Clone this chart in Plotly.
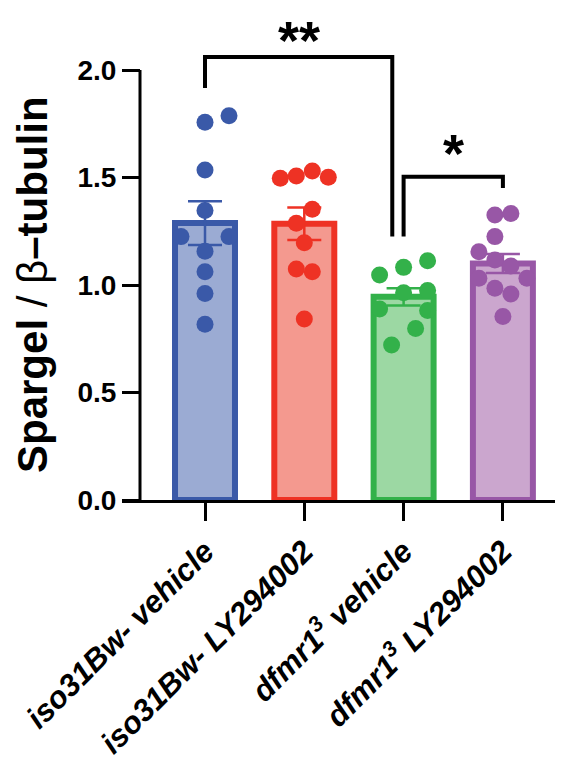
import plotly.graph_objects as go

# ---- data ----
categories = ["iso31Bw- vehicle", "iso31Bw- LY294002",
              "dfmr1<sup>3</sup> vehicle", "dfmr1<sup>3</sup> LY294002"]
means = [1.288, 1.285, 0.945, 1.100]
sems = [0.102, 0.076, 0.040, 0.044]

iso_vehicle = [1.757, 1.787, 1.535, 1.346, 1.225, 1.225, 1.157, 1.062, 0.961, 0.817]
iso_ly = [1.496, 1.507, 1.530, 1.501, 1.352, 1.287, 1.197, 1.074, 1.062, 0.842]
dfmr_vehicle = [1.047, 1.082, 1.113, 0.964, 0.974, 0.888, 0.881, 0.798, 0.721]
dfmr_ly = [1.326, 1.333, 1.225, 1.155, 1.116, 1.088, 1.031, 1.031, 0.985, 0.958, 0.853]

# horizontal scatter of dots (in pixels)
iso_vehicle_jit = [0, 24, 0, 0, -24, 24, 0, 0, 0, 0]
iso_ly_jit = [-24, -8, 8, 24, 8, -8, 0, -8, 8, 0]
dfmr_vehicle_jit = [-24, 0, 24, 0, 24, -24, 24, 12, -12]
dfmr_ly_jit = [-8, 8, -8, -24, -8, 8, -24, 24, -8, 8, 0]

y_tick_vals = [0, 0.5, 1.0, 1.5, 2.0]
y_tick_text = ["0.0", "0.5", "1.0", "1.5", "2.0"]

# significance brackets: (left x, right x, top y, left drop y, right drop y, label)
sig_brackets = [
    (0, 1.886, 2.06, 1.916, 1.225, "**"),
    (2, 3, 1.504, 1.225, 1.451, "*"),
]

fill_colors = ["#9BABD3", "#F4998F", "#9CD8A3", "#CBA6CE"]
line_colors = ["#3A59A8", "#EE3224", "#33B14A", "#9857A6"]

W, H = 563, 760
OFF = 8  # page body margin
x_left_px = 122 - OFF
yaxis_px = 140 - OFF
cat0_px, cat_step_px = 205 - OFF, 99.3
x_range = [(x_left_px - cat0_px) / cat_step_px, (W - cat0_px) / cat_step_px]
plot_h = 500 - OFF
y_range = [0, plot_h / 215.0]

FONT = "Liberation Sans, Arial, sans-serif"

fig = go.Figure()

for i in range(4):
    fig.add_trace(go.Bar(
        x=[i], y=[means[i]], width=0.604,
        marker=dict(color=fill_colors[i], line=dict(color=line_colors[i], width=6)),
        error_y=dict(type="data", array=[sems[i]], color=line_colors[i], thickness=2.5, width=17),
        showlegend=False, hoverinfo="skip",
    ))

groups = [(iso_vehicle, iso_vehicle_jit), (iso_ly, iso_ly_jit),
          (dfmr_vehicle, dfmr_vehicle_jit), (dfmr_ly, dfmr_ly_jit)]
for i, (vals, jit) in enumerate(groups):
    fig.add_trace(go.Scatter(
        x=[i + j / cat_step_px for j in jit], y=vals, mode="markers",
        marker=dict(color=line_colors[i], size=17, line=dict(width=0)),
        showlegend=False, cliponaxis=False,
    ))

shapes = []
yline_x = (yaxis_px - cat0_px) / cat_step_px
shapes.append(dict(type="line", xref="x", yref="y", x0=yline_x, x1=yline_x,
                   y0=0, y1=2.0, line=dict(color="black", width=3)))
for (a, b, top, ya, yb, lab) in sig_brackets:
    shapes.append(dict(type="path", xref="x", yref="y",
                       path=f"M {a},{ya} L {a},{top} L {b},{top} L {b},{yb}",
                       line=dict(color="black", width=4)))

annotations = []
a, b, top, ya, yb, lab = sig_brackets[0]
annotations.append(dict(x=(a + b) / 2, y=1, xref="x", yref="paper",
                        text=f"<b>{lab}</b>", showarrow=False,
                        font=dict(family=FONT, size=54, color="black"),
                        xanchor="center", yanchor="top"))
a, b, top, ya, yb, lab = sig_brackets[1]
annotations.append(dict(x=(a + b) / 2, y=1.614, xref="x", yref="y",
                        text=f"<b>{lab}</b>", showarrow=False,
                        font=dict(family=FONT, size=54, color="black"),
                        xanchor="center", yanchor="middle"))
annotations.append(dict(x=(32 - OFF) / W, y=(plot_h - (285 - OFF)) / plot_h,
                        xref="paper", yref="paper",
                        text="<b>Spargel</b> / β<b>–tubulin</b>", textangle=-90,
                        showarrow=False, font=dict(family=FONT, size=42, color="black"),
                        xanchor="center", yanchor="middle"))

fig.update_layout(
    width=W, height=H,
    margin=dict(l=0, r=0, t=0, b=H - plot_h, autoexpand=False),
    paper_bgcolor="white", plot_bgcolor="white",
    barmode="overlay",
    xaxis=dict(domain=[x_left_px / W, 1], range=x_range, automargin=False,
               tickvals=[0, 1, 2, 3], ticktext=categories, tickangle=-45,
               tickfont=dict(family=FONT, size=31, color="black", weight="bold", style="italic"),
               ticks="outside", ticklen=18, tickwidth=3, tickcolor="black",
               showline=True, linewidth=3, linecolor="black",
               showgrid=False, zeroline=False, fixedrange=True),
    yaxis=dict(range=y_range, anchor="free", position=yaxis_px / W, automargin=False,
               tickvals=y_tick_vals, ticktext=y_tick_text,
               tickfont=dict(family=FONT, size=28, color="black", weight="bold"),
               ticks="outside", ticklen=18, tickwidth=3, tickcolor="black",
               showline=False, showgrid=False, zeroline=False, fixedrange=True),
    shapes=shapes, annotations=annotations,
)

fig.write_html("out.html")
